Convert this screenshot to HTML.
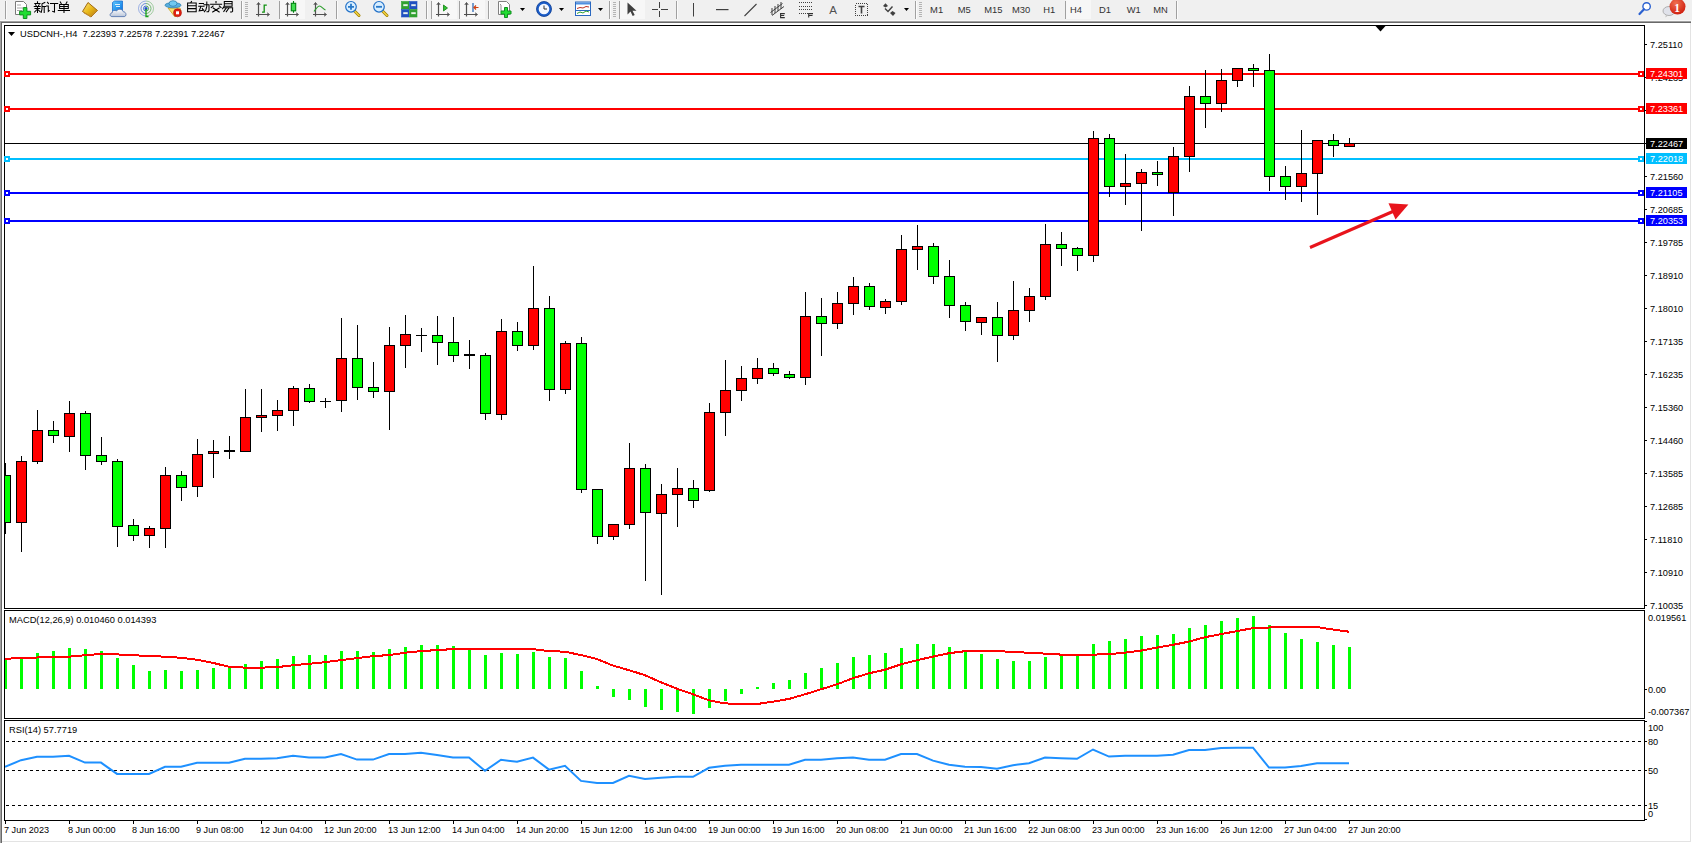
<!DOCTYPE html>
<html><head><meta charset="utf-8"><style>
html,body{margin:0;padding:0;width:1692px;height:843px;overflow:hidden;background:#fff;}
text{white-space:pre}
</style></head><body>
<svg width="1692" height="843" viewBox="0 0 1692 843" style="position:absolute;left:0;top:0;font-family:'Liberation Sans',sans-serif" shape-rendering="crispEdges"><rect x="0" y="0" width="1692" height="843" fill="#ffffff"/><rect x="0" y="0" width="1692" height="20" fill="#f0f0f0"/><rect x="0" y="20" width="1692" height="1" fill="#f8f8f8"/><rect x="0" y="21" width="1691" height="1" fill="#a0a0a0"/><rect x="0" y="22" width="1691" height="1" fill="#696969"/><rect x="0" y="21" width="1" height="822" fill="#a0a0a0"/><rect x="1" y="22" width="1" height="821" fill="#696969"/><rect x="1690" y="23" width="1" height="818" fill="#e3e3e3"/><rect x="2" y="841" width="1689" height="1" fill="#e3e3e3"/><g shape-rendering="crispEdges"><rect x="5" y="1" width="1" height="18" fill="#a0a0a0"/><rect x="6" y="1" width="1" height="18" fill="#fbfbfb"/><rect x="241" y="1" width="1" height="18" fill="#a0a0a0"/><rect x="242" y="1" width="1" height="18" fill="#fbfbfb"/><rect x="245" y="2" width="3" height="1" fill="#b4b4b4"/><rect x="245" y="4" width="3" height="1" fill="#b4b4b4"/><rect x="245" y="6" width="3" height="1" fill="#b4b4b4"/><rect x="245" y="8" width="3" height="1" fill="#b4b4b4"/><rect x="245" y="10" width="3" height="1" fill="#b4b4b4"/><rect x="245" y="12" width="3" height="1" fill="#b4b4b4"/><rect x="245" y="14" width="3" height="1" fill="#b4b4b4"/><rect x="245" y="16" width="3" height="1" fill="#b4b4b4"/><rect x="279" y="1" width="1" height="18" fill="#a0a0a0"/><rect x="280" y="1" width="1" height="18" fill="#fbfbfb"/><rect x="280" y="0" width="25" height="19" fill="#f7f7f7"/><rect x="336" y="1" width="1" height="18" fill="#a0a0a0"/><rect x="337" y="1" width="1" height="18" fill="#fbfbfb"/><rect x="426" y="1" width="1" height="18" fill="#a0a0a0"/><rect x="427" y="1" width="1" height="18" fill="#fbfbfb"/><rect x="431" y="1" width="1" height="18" fill="#a0a0a0"/><rect x="432" y="1" width="1" height="18" fill="#fbfbfb"/><rect x="432" y="0" width="25" height="19" fill="#f7f7f7"/><rect x="459" y="1" width="1" height="18" fill="#a0a0a0"/><rect x="460" y="1" width="1" height="18" fill="#fbfbfb"/><rect x="460" y="0" width="25" height="19" fill="#f7f7f7"/><rect x="488" y="1" width="1" height="18" fill="#a0a0a0"/><rect x="489" y="1" width="1" height="18" fill="#fbfbfb"/><rect x="609" y="1" width="1" height="18" fill="#a0a0a0"/><rect x="610" y="1" width="1" height="18" fill="#fbfbfb"/><rect x="613" y="2" width="3" height="1" fill="#b4b4b4"/><rect x="613" y="4" width="3" height="1" fill="#b4b4b4"/><rect x="613" y="6" width="3" height="1" fill="#b4b4b4"/><rect x="613" y="8" width="3" height="1" fill="#b4b4b4"/><rect x="613" y="10" width="3" height="1" fill="#b4b4b4"/><rect x="613" y="12" width="3" height="1" fill="#b4b4b4"/><rect x="613" y="14" width="3" height="1" fill="#b4b4b4"/><rect x="613" y="16" width="3" height="1" fill="#b4b4b4"/><rect x="619" y="1" width="1" height="18" fill="#a0a0a0"/><rect x="620" y="1" width="1" height="18" fill="#fbfbfb"/><rect x="620" y="0" width="25" height="19" fill="#f7f7f7"/><rect x="676" y="1" width="1" height="18" fill="#a0a0a0"/><rect x="677" y="1" width="1" height="18" fill="#fbfbfb"/><rect x="915" y="1" width="1" height="18" fill="#a0a0a0"/><rect x="916" y="1" width="1" height="18" fill="#fbfbfb"/><rect x="919" y="2" width="3" height="1" fill="#b4b4b4"/><rect x="919" y="4" width="3" height="1" fill="#b4b4b4"/><rect x="919" y="6" width="3" height="1" fill="#b4b4b4"/><rect x="919" y="8" width="3" height="1" fill="#b4b4b4"/><rect x="919" y="10" width="3" height="1" fill="#b4b4b4"/><rect x="919" y="12" width="3" height="1" fill="#b4b4b4"/><rect x="919" y="14" width="3" height="1" fill="#b4b4b4"/><rect x="919" y="16" width="3" height="1" fill="#b4b4b4"/><rect x="1065" y="1" width="1" height="18" fill="#a0a0a0"/><rect x="1066" y="1" width="1" height="18" fill="#fbfbfb"/><rect x="1066" y="0" width="25" height="19" fill="#f7f7f7"/><rect x="1176" y="1" width="1" height="18" fill="#a0a0a0"/><rect x="1177" y="1" width="1" height="18" fill="#fbfbfb"/></g><g shape-rendering="geometricPrecision"><path d="M15.5 1.5h8l3 3v10h-11z" fill="#fff" stroke="#7a7a7a"/><path d="M17 5h4M17 8h6M17 10.5h5" stroke="#a8a8a8" stroke-width="1"/><path d="M23.3 7.6h3.6v3.7h3.7v3.6h-3.7v3.6h-3.6v-3.6h-3.7v-3.6h3.7z" fill="#22dd33" stroke="#109020" stroke-width="1"/><g fill="none" stroke="#000" stroke-width="1.05" stroke-linecap="square"><path d="M37.5 1.8v1.2M34.8 3.5h5.2M35.5 4.6l.6 1M39.2 4.6l-.6 1M34.3 6.5h6M35 8.5h4.8M37.5 6.5v6M36.6 10l-2 2M38.4 10l1.8 1.8"/><path d="M44.8 2.5l-2.8 1.3v5.2l-.8 3.4M42 6.5h3.5M44.2 6.5v6"/><path d="M47.5 2.3l1 1.3M46.5 6h1.8v5.5l1-.8M50.5 3.5h7.2M54.5 3.5v8.5l-1.8-.6"/><path d="M60.3 2l.9 1.5M67 2l-.9 1.5M59.6 4.5h8.7v4h-8.7zM59.6 6.5h8.7M64 4.5v8M58.3 10.5h11.2"/></g><defs><linearGradient id="gold" x1="0" y1="0" x2="1" y2="1"><stop offset="0" stop-color="#ffe680"/><stop offset=".5" stop-color="#e8b818"/><stop offset="1" stop-color="#b07010"/></linearGradient><linearGradient id="cloud" x1="0" y1="0" x2="0" y2="1"><stop offset="0" stop-color="#ffffff"/><stop offset="1" stop-color="#b8c4d8"/></linearGradient><linearGradient id="blu" x1="0" y1="0" x2="1" y2="1"><stop offset="0" stop-color="#60c8ff"/><stop offset="1" stop-color="#0070e0"/></linearGradient><radialGradient id="badge" cx=".4" cy=".3" r=".7"><stop offset="0" stop-color="#f07050"/><stop offset="1" stop-color="#d02010"/></radialGradient></defs><path d="M82.5 11.5l5.5-9 9.5 8-6.5 6.5z" fill="url(#gold)" stroke="#a06a10" stroke-width="1"/><path d="M84 13l7 3.5 6-6" fill="none" stroke="#c89030" stroke-width="1"/><path d="M112.5 2.5l2-1.5h8v10.5h-10z" fill="url(#blu)" stroke="#1a70d0" stroke-width=".8"/><path d="M115 4.5h5M116 6.5h4" stroke="#d8f0ff" stroke-width="1"/><path d="M112 16.6c-2.5 0-2.5-3.6 0-3.6 0-2.5 2.8-3.3 4.5-2 1.3-2.5 5.8-2.5 6.8.8 3-.3 3.8 4.8.8 4.8z" fill="url(#cloud)" stroke="#5878b0" stroke-width=".9"/><g fill="none" stroke-width="1"><path d="M143.5 8.5a2.5 2.5 0 0 1 2.5 -2.5" stroke="#3060d0" opacity="0.9"/><path d="M143.5 8.5a2.5 2.5 0 0 0 2.5 2.5" stroke="#3060d0" opacity="0.9"/><path d="M146 6.0a2.5 2.5 0 0 1 2.5 2.5a2.5 2.5 0 0 1 -2.5 2.5" stroke="#40a040" opacity="0.9"/><path d="M141 8.5a5 5 0 0 1 5 -5" stroke="#3060d0" opacity="0.7"/><path d="M141 8.5a5 5 0 0 0 5 5" stroke="#3060d0" opacity="0.7"/><path d="M146 3.5a5 5 0 0 1 5 5a5 5 0 0 1 -5 5" stroke="#40a040" opacity="0.7"/><path d="M138.5 8.5a7.5 7.5 0 0 1 7.5 -7.5" stroke="#3060d0" opacity="0.45"/><path d="M138.5 8.5a7.5 7.5 0 0 0 7.5 7.5" stroke="#3060d0" opacity="0.45"/><path d="M146 1.0a7.5 7.5 0 0 1 7.5 7.5a7.5 7.5 0 0 1 -7.5 7.5" stroke="#40a040" opacity="0.45"/></g><circle cx="146" cy="8.5" r="1.5" fill="#2050d0"/><path d="M146 9v7.5h2.5" fill="none" stroke="#18a018" stroke-width="1.3"/><path d="M168 8l7 9 6-6-1-3z" fill="#f8e070" stroke="#c8a020" stroke-width=".8"/><ellipse cx="173" cy="5.2" rx="8" ry="2.6" fill="#58b0e0" stroke="#3080b0" stroke-width=".8"/><ellipse cx="173" cy="3.5" rx="4" ry="2.8" fill="#70c8f0" stroke="#3080b0" stroke-width=".8"/><circle cx="177.5" cy="12.8" r="4" fill="#e02010" stroke="#b01008" stroke-width=".6"/><rect x="176" y="11.3" width="3" height="3" fill="#fff"/><g fill="none" stroke="#000" stroke-width="1.05" stroke-linecap="square"><path d="M191.5 1.5l-.8 1.3M187.6 3h8.6v8.8h-8.6zM187.6 5.8h8.6M187.6 8.6h8.6"/><path d="M199.3 3.4h4.2M198.7 6.3h5.3M201 6.3l-1.8 4.5 4.5-.6M202.3 8.5l1 1.8M204 4.8h5v5.5l-.6 1.5h-1.4M206.8 2v4.5l-1 3.5-1.5 1.8"/><path d="M216 1.5v1.3M210.6 4.3h11M213 6l-1.8 1.6M219.3 6l1.8 1.6M213.2 8l6 4M219.2 8l-6.5 4"/><path d="M224.3 1.5h7.8v4.7h-7.8zM224.3 3.8h7.8M224 6.5l-1.5 2.2M223.8 7.8h8.8v3.5l-.8.6h-1.2M226.5 7.8l-2.7 3.6M229 8l-2.7 3.7"/></g><path d="M258.5 3v13.5M256 14.5h13" fill="none" stroke="#505050" stroke-width="1.2"/><path d="M256.8 5l1.7-2.5 1.7 2.5M267 12.8l2.5 1.7-2.5 1.7" fill="none" stroke="#505050" stroke-width="1"/><path d="M266.8 5.2h-2.6v7h-2.2" fill="none" stroke="#109010" stroke-width="1.3"/><path d="M287.5 3v13.5M285 14.5h13" fill="none" stroke="#505050" stroke-width="1.2"/><path d="M285.8 5l1.7-2.5 1.7 2.5M296 12.8l2.5 1.7-2.5 1.7" fill="none" stroke="#505050" stroke-width="1"/><rect x="291.3" y="3.3" width="4.4" height="7.5" fill="#40e050" stroke="#008010" stroke-width="1.1"/><path d="M293.5 1v2.3M293.5 10.8v2" stroke="#008010" stroke-width="1.1"/><path d="M315.5 3v13.5M313 14.5h13" fill="none" stroke="#505050" stroke-width="1.2"/><path d="M313.8 5l1.7-2.5 1.7 2.5M324 12.8l2.5 1.7-2.5 1.7" fill="none" stroke="#505050" stroke-width="1"/><path d="M314 11.5c2-2.5 3.5-5.5 5.5-5.5 2 0 3.5 3 6 4" fill="none" stroke="#30a030" stroke-width="1.1"/><path d="M354 10.5l5 5" stroke="#a08000" stroke-width="3" stroke-linecap="round"/><path d="M354 10.5l5 5" stroke="#f0d040" stroke-width="1.6" stroke-linecap="round"/><circle cx="351" cy="6.8" r="5.3" fill="#d8eeff" stroke="#2070c8" stroke-width="1.2"/><path d="M348 6.8h6M351 3.8v6" stroke="#2878c8" stroke-width="1.8"/><path d="M382 10.5l5 5" stroke="#a08000" stroke-width="3" stroke-linecap="round"/><path d="M382 10.5l5 5" stroke="#f0d040" stroke-width="1.6" stroke-linecap="round"/><circle cx="379" cy="6.8" r="5.3" fill="#d8eeff" stroke="#2070c8" stroke-width="1.2"/><path d="M376 6.8h6" stroke="#2878c8" stroke-width="1.8"/><rect x="401.5" y="1.5" width="7.5" height="7.5" fill="#30a030" stroke="#30a030" stroke-width=".6"/><rect x="403" y="4" width="5" height="2.2" fill="#f0f8f0" stroke="#30a030" stroke-width=".5"/><rect x="409.5" y="1.5" width="7.5" height="7.5" fill="#2050c0" stroke="#2050c0" stroke-width=".6"/><rect x="411" y="4" width="5" height="2.2" fill="#f0f8f0" stroke="#2050c0" stroke-width=".5"/><rect x="401.5" y="9.5" width="7.5" height="7.5" fill="#2050c0" stroke="#2050c0" stroke-width=".6"/><rect x="403" y="12" width="5" height="2.2" fill="#f0f8f0" stroke="#2050c0" stroke-width=".5"/><rect x="409.5" y="9.5" width="7.5" height="7.5" fill="#30a030" stroke="#30a030" stroke-width=".6"/><rect x="411" y="12" width="5" height="2.2" fill="#f0f8f0" stroke="#30a030" stroke-width=".5"/><path d="M438.5 3v13.5M436 14.5h13" fill="none" stroke="#505050" stroke-width="1.2"/><path d="M436.8 5l1.7-2.5 1.7 2.5M447 12.8l2.5 1.7-2.5 1.7" fill="none" stroke="#505050" stroke-width="1"/><path d="M443.5 5v6l4-3z" fill="#30c030" stroke="#108010" stroke-width=".8"/><path d="M466.5 3v13.5M464 14.5h13" fill="none" stroke="#505050" stroke-width="1.2"/><path d="M464.8 5l1.7-2.5 1.7 2.5M475 12.8l2.5 1.7-2.5 1.7" fill="none" stroke="#505050" stroke-width="1"/><path d="M473 3v9" stroke="#2060b0" stroke-width="1.2"/><path d="M478.5 7.5h-4M476 5.5l-2 2 2 2" fill="none" stroke="#d04010" stroke-width="1.2"/><path d="M498.5 1.5h8l3 3v10h-11z" fill="#fff" stroke="#808080"/><path d="M500 4l1 1v6" stroke="#909090" fill="none"/><path d="M504.5 7.5h3v3.5h3.5v3h-3.5v3.5h-3v-3.5h-3.5v-3h3.5z" fill="#22dd33" stroke="#109020"/><path d="M520 8h5l-2.5 3z" fill="#000" shape-rendering="geometricPrecision"/><circle cx="544" cy="9" r="7.5" fill="#1a5cc8" stroke="#0a3a90" stroke-width=".8"/><circle cx="544" cy="9" r="5.3" fill="#f4f8ff"/><path d="M544 5.5v3.5h3" fill="none" stroke="#303030" stroke-width="1"/><path d="M559 8h5l-2.5 3z" fill="#000" shape-rendering="geometricPrecision"/><rect x="575.5" y="2" width="15" height="13.5" fill="#fff" stroke="#2a68c0" stroke-width="1"/><rect x="576" y="2.5" width="14" height="2" fill="#5090e0"/><path d="M577 8.5l3-1 3 .5 3-1.5 3 .5" fill="none" stroke="#c03020" stroke-width="1"/><path d="M576 10.5h14" stroke="#2a68c0"/><path d="M577 13.5l3-1.5 3 1 3-2 3 1" fill="none" stroke="#30a030" stroke-width="1"/><path d="M598 8h5l-2.5 3z" fill="#000" shape-rendering="geometricPrecision"/><path d="M627.5 2.5v12l3-3 2.2 4.5 2-1-2.2-4.3h4z" fill="#404040"/><path d="M651.5 9.5h6.5M661 9.5h6.5M659.5 2v6M659.5 11v6" stroke="#404040" stroke-width="1" fill="none" shape-rendering="crispEdges"/><rect x="693" y="3" width="1" height="13.5" fill="#404040"/><rect x="716" y="9" width="12.5" height="1.2" fill="#404040"/><path d="M744.5 16l12-12" stroke="#404040" stroke-width="1.1"/><path d="M770.5 12.5l12-9M772 15.5l12-9M772 8v7M775 6v7M778 4v7M781 2v7" stroke="#404040" stroke-width="1" fill="none"/><path d="M784.8 13.6h-4.2v4h4.2M780.6 15.5h3.6" stroke="#303030" stroke-width="1.1" fill="none"/><path d="M799 2.5h13" stroke="#404040" stroke-width="1" stroke-dasharray="1,1" shape-rendering="crispEdges"/><path d="M799 6h13" stroke="#404040" stroke-width="1" stroke-dasharray="1,1" shape-rendering="crispEdges"/><path d="M799 9.5h13" stroke="#404040" stroke-width="1" stroke-dasharray="1,1" shape-rendering="crispEdges"/><path d="M799 13h13" stroke="#404040" stroke-width="1" stroke-dasharray="1,1" shape-rendering="crispEdges"/><path d="M813 13.6h-4.3v4M808.7 15.5h3.8" stroke="#303030" stroke-width="1.1" fill="none"/><text x="829.3" y="14" font-size="11.5" fill="#505050" style="font-family:'Liberation Sans',sans-serif">A</text><rect x="855.5" y="3.5" width="12" height="12" fill="none" stroke="#404040" stroke-width="1" stroke-dasharray="1,1" shape-rendering="crispEdges"/><path d="M858.5 6.5h6M861.5 6.5v7" stroke="#404040" stroke-width="1.6"/><path d="M883 6l2.5-2.7 2.5 2.7-2.5 1.5z" fill="#404040"/><path d="M885 8.5l3 3 4.5-5" fill="none" stroke="#404040" stroke-width="1.4"/><path d="M890 13l2.5-2 3 2-2.5 3z" fill="#404040"/><path d="M904 8h5l-2.5 3z" fill="#000" shape-rendering="geometricPrecision"/></g><g style="font-family:'Liberation Sans',sans-serif" font-size="9.4" fill="#333"><text x="930.1" y="13">M1</text><text x="957.8" y="13">M5</text><text x="984.2" y="13">M15</text><text x="1012.0" y="13">M30</text><text x="1043.3" y="13">H1</text><text x="1069.9" y="13">H4</text><text x="1099.1" y="13">D1</text><text x="1126.7" y="13">W1</text><text x="1153.3" y="13">MN</text></g><g shape-rendering="geometricPrecision"><circle cx="1646.6" cy="6.4" r="3.7" fill="#fff" stroke="#2a60d0" stroke-width="1.4"/><path d="M1644 9.2l-4.5 4.8" stroke="#2a60d0" stroke-width="2.2" stroke-linecap="round"/><ellipse cx="1669" cy="11" rx="6" ry="4.5" fill="#e0e2ea" stroke="#a8a8a8" stroke-width=".9"/><path d="M1666 15l-.8 2.5 3-2" fill="#c0c0c0"/><circle cx="1677.5" cy="6.6" r="8" fill="url(#badge)"/><text x="1674.2" y="11.5" font-size="11.5" font-weight="bold" fill="#fff" style="font-family:'Liberation Serif',serif">1</text></g><rect x="4" y="25" width="1641" height="1" fill="#000"/><rect x="4" y="608" width="1641" height="1" fill="#000"/><rect x="4" y="25" width="1" height="584" fill="#000"/><rect x="1644" y="25" width="1" height="584" fill="#000"/><rect x="4" y="610" width="1641" height="1" fill="#000"/><rect x="4" y="718" width="1641" height="1" fill="#000"/><rect x="4" y="610" width="1" height="109" fill="#000"/><rect x="1644" y="610" width="1" height="109" fill="#000"/><rect x="4" y="720" width="1641" height="1" fill="#000"/><rect x="4" y="820" width="1641" height="1" fill="#000"/><rect x="4" y="720" width="1" height="101" fill="#000"/><rect x="1644" y="720" width="1" height="101" fill="#000"/><svg x="5" y="26" width="1639" height="582" viewBox="5 26 1639 582" overflow="hidden"><rect x="5" y="143" width="1639" height="1" fill="#000"/><rect x="5" y="73" width="1639" height="2" fill="#ff0000"/><rect x="5" y="108" width="1639" height="2" fill="#ff0000"/><rect x="5" y="158" width="1639" height="2" fill="#00bfff"/><rect x="5" y="192" width="1639" height="2" fill="#0000ff"/><rect x="5" y="220" width="1639" height="2" fill="#0000ff"/><rect x="5" y="463" width="1" height="71" fill="#000"/><rect x="0" y="475" width="11" height="48" fill="#000"/><rect x="1" y="476" width="9" height="46" fill="#00ff00"/><rect x="21" y="456" width="1" height="96" fill="#000"/><rect x="16" y="461" width="11" height="62" fill="#000"/><rect x="17" y="462" width="9" height="60" fill="#ff0000"/><rect x="37" y="410" width="1" height="54" fill="#000"/><rect x="32" y="430" width="11" height="32" fill="#000"/><rect x="33" y="431" width="9" height="30" fill="#ff0000"/><rect x="53" y="421" width="1" height="22" fill="#000"/><rect x="48" y="430" width="11" height="6" fill="#000"/><rect x="49" y="431" width="9" height="4" fill="#00ff00"/><rect x="69" y="401" width="1" height="51" fill="#000"/><rect x="64" y="413" width="11" height="24" fill="#000"/><rect x="65" y="414" width="9" height="22" fill="#ff0000"/><rect x="85" y="411" width="1" height="59" fill="#000"/><rect x="80" y="413" width="11" height="43" fill="#000"/><rect x="81" y="414" width="9" height="41" fill="#00ff00"/><rect x="101" y="437" width="1" height="28" fill="#000"/><rect x="96" y="455" width="11" height="7" fill="#000"/><rect x="97" y="456" width="9" height="5" fill="#00ff00"/><rect x="117" y="459" width="1" height="88" fill="#000"/><rect x="112" y="461" width="11" height="66" fill="#000"/><rect x="113" y="462" width="9" height="64" fill="#00ff00"/><rect x="133" y="519" width="1" height="22" fill="#000"/><rect x="128" y="525" width="11" height="11" fill="#000"/><rect x="129" y="526" width="9" height="9" fill="#00ff00"/><rect x="149" y="526" width="1" height="22" fill="#000"/><rect x="144" y="528" width="11" height="8" fill="#000"/><rect x="145" y="529" width="9" height="6" fill="#ff0000"/><rect x="165" y="467" width="1" height="81" fill="#000"/><rect x="160" y="475" width="11" height="54" fill="#000"/><rect x="161" y="476" width="9" height="52" fill="#ff0000"/><rect x="181" y="471" width="1" height="30" fill="#000"/><rect x="176" y="475" width="11" height="13" fill="#000"/><rect x="177" y="476" width="9" height="11" fill="#00ff00"/><rect x="197" y="439" width="1" height="58" fill="#000"/><rect x="192" y="454" width="11" height="33" fill="#000"/><rect x="193" y="455" width="9" height="31" fill="#ff0000"/><rect x="213" y="440" width="1" height="38" fill="#000"/><rect x="208" y="451" width="11" height="3" fill="#000"/><rect x="209" y="452" width="9" height="1" fill="#ff0000"/><rect x="229" y="436" width="1" height="23" fill="#000"/><rect x="224" y="450" width="11" height="2" fill="#000"/><rect x="245" y="389" width="1" height="63" fill="#000"/><rect x="240" y="417" width="11" height="35" fill="#000"/><rect x="241" y="418" width="9" height="33" fill="#ff0000"/><rect x="261" y="389" width="1" height="43" fill="#000"/><rect x="256" y="415" width="11" height="3" fill="#000"/><rect x="257" y="416" width="9" height="1" fill="#ff0000"/><rect x="277" y="400" width="1" height="31" fill="#000"/><rect x="272" y="410" width="11" height="6" fill="#000"/><rect x="273" y="411" width="9" height="4" fill="#ff0000"/><rect x="293" y="386" width="1" height="40" fill="#000"/><rect x="288" y="388" width="11" height="23" fill="#000"/><rect x="289" y="389" width="9" height="21" fill="#ff0000"/><rect x="309" y="384" width="1" height="19" fill="#000"/><rect x="304" y="388" width="11" height="14" fill="#000"/><rect x="305" y="389" width="9" height="12" fill="#00ff00"/><rect x="325" y="398" width="1" height="10" fill="#000"/><rect x="320" y="401" width="11" height="1" fill="#000"/><rect x="341" y="318" width="1" height="94" fill="#000"/><rect x="336" y="358" width="11" height="43" fill="#000"/><rect x="337" y="359" width="9" height="41" fill="#ff0000"/><rect x="357" y="325" width="1" height="75" fill="#000"/><rect x="352" y="358" width="11" height="30" fill="#000"/><rect x="353" y="359" width="9" height="28" fill="#00ff00"/><rect x="373" y="362" width="1" height="36" fill="#000"/><rect x="368" y="387" width="11" height="5" fill="#000"/><rect x="369" y="388" width="9" height="3" fill="#00ff00"/><rect x="389" y="327" width="1" height="103" fill="#000"/><rect x="384" y="345" width="11" height="47" fill="#000"/><rect x="385" y="346" width="9" height="45" fill="#ff0000"/><rect x="405" y="315" width="1" height="53" fill="#000"/><rect x="400" y="334" width="11" height="12" fill="#000"/><rect x="401" y="335" width="9" height="10" fill="#ff0000"/><rect x="421" y="328" width="1" height="24" fill="#000"/><rect x="416" y="335" width="11" height="1" fill="#000"/><rect x="437" y="316" width="1" height="49" fill="#000"/><rect x="432" y="335" width="11" height="8" fill="#000"/><rect x="433" y="336" width="9" height="6" fill="#00ff00"/><rect x="453" y="317" width="1" height="45" fill="#000"/><rect x="448" y="342" width="11" height="14" fill="#000"/><rect x="449" y="343" width="9" height="12" fill="#00ff00"/><rect x="469" y="340" width="1" height="29" fill="#000"/><rect x="464" y="354" width="11" height="2" fill="#000"/><rect x="485" y="353" width="1" height="67" fill="#000"/><rect x="480" y="355" width="11" height="59" fill="#000"/><rect x="481" y="356" width="9" height="57" fill="#00ff00"/><rect x="501" y="319" width="1" height="101" fill="#000"/><rect x="496" y="331" width="11" height="84" fill="#000"/><rect x="497" y="332" width="9" height="82" fill="#ff0000"/><rect x="517" y="322" width="1" height="29" fill="#000"/><rect x="512" y="331" width="11" height="15" fill="#000"/><rect x="513" y="332" width="9" height="13" fill="#00ff00"/><rect x="533" y="266" width="1" height="84" fill="#000"/><rect x="528" y="308" width="11" height="38" fill="#000"/><rect x="529" y="309" width="9" height="36" fill="#ff0000"/><rect x="549" y="296" width="1" height="105" fill="#000"/><rect x="544" y="308" width="11" height="82" fill="#000"/><rect x="545" y="309" width="9" height="80" fill="#00ff00"/><rect x="565" y="341" width="1" height="53" fill="#000"/><rect x="560" y="343" width="11" height="47" fill="#000"/><rect x="561" y="344" width="9" height="45" fill="#ff0000"/><rect x="581" y="337" width="1" height="156" fill="#000"/><rect x="576" y="343" width="11" height="147" fill="#000"/><rect x="577" y="344" width="9" height="145" fill="#00ff00"/><rect x="597" y="489" width="1" height="55" fill="#000"/><rect x="592" y="489" width="11" height="48" fill="#000"/><rect x="593" y="490" width="9" height="46" fill="#00ff00"/><rect x="613" y="524" width="1" height="16" fill="#000"/><rect x="608" y="524" width="11" height="13" fill="#000"/><rect x="609" y="525" width="9" height="11" fill="#ff0000"/><rect x="629" y="443" width="1" height="86" fill="#000"/><rect x="624" y="468" width="11" height="57" fill="#000"/><rect x="625" y="469" width="9" height="55" fill="#ff0000"/><rect x="645" y="464" width="1" height="117" fill="#000"/><rect x="640" y="468" width="11" height="45" fill="#000"/><rect x="641" y="469" width="9" height="43" fill="#00ff00"/><rect x="661" y="484" width="1" height="111" fill="#000"/><rect x="656" y="494" width="11" height="20" fill="#000"/><rect x="657" y="495" width="9" height="18" fill="#ff0000"/><rect x="677" y="468" width="1" height="59" fill="#000"/><rect x="672" y="488" width="11" height="7" fill="#000"/><rect x="673" y="489" width="9" height="5" fill="#ff0000"/><rect x="693" y="480" width="1" height="28" fill="#000"/><rect x="688" y="488" width="11" height="13" fill="#000"/><rect x="689" y="489" width="9" height="11" fill="#00ff00"/><rect x="709" y="403" width="1" height="89" fill="#000"/><rect x="704" y="412" width="11" height="79" fill="#000"/><rect x="705" y="413" width="9" height="77" fill="#ff0000"/><rect x="725" y="360" width="1" height="76" fill="#000"/><rect x="720" y="390" width="11" height="23" fill="#000"/><rect x="721" y="391" width="9" height="21" fill="#ff0000"/><rect x="741" y="366" width="1" height="35" fill="#000"/><rect x="736" y="378" width="11" height="13" fill="#000"/><rect x="737" y="379" width="9" height="11" fill="#ff0000"/><rect x="757" y="358" width="1" height="26" fill="#000"/><rect x="752" y="368" width="11" height="11" fill="#000"/><rect x="753" y="369" width="9" height="9" fill="#ff0000"/><rect x="773" y="363" width="1" height="13" fill="#000"/><rect x="768" y="368" width="11" height="6" fill="#000"/><rect x="769" y="369" width="9" height="4" fill="#00ff00"/><rect x="789" y="371" width="1" height="8" fill="#000"/><rect x="784" y="374" width="11" height="4" fill="#000"/><rect x="785" y="375" width="9" height="2" fill="#00ff00"/><rect x="805" y="292" width="1" height="93" fill="#000"/><rect x="800" y="316" width="11" height="62" fill="#000"/><rect x="801" y="317" width="9" height="60" fill="#ff0000"/><rect x="821" y="298" width="1" height="58" fill="#000"/><rect x="816" y="316" width="11" height="8" fill="#000"/><rect x="817" y="317" width="9" height="6" fill="#00ff00"/><rect x="837" y="292" width="1" height="37" fill="#000"/><rect x="832" y="303" width="11" height="21" fill="#000"/><rect x="833" y="304" width="9" height="19" fill="#ff0000"/><rect x="853" y="277" width="1" height="38" fill="#000"/><rect x="848" y="286" width="11" height="18" fill="#000"/><rect x="849" y="287" width="9" height="16" fill="#ff0000"/><rect x="869" y="283" width="1" height="27" fill="#000"/><rect x="864" y="286" width="11" height="21" fill="#000"/><rect x="865" y="287" width="9" height="19" fill="#00ff00"/><rect x="885" y="299" width="1" height="15" fill="#000"/><rect x="880" y="301" width="11" height="7" fill="#000"/><rect x="881" y="302" width="9" height="5" fill="#ff0000"/><rect x="901" y="235" width="1" height="70" fill="#000"/><rect x="896" y="249" width="11" height="53" fill="#000"/><rect x="897" y="250" width="9" height="51" fill="#ff0000"/><rect x="917" y="225" width="1" height="45" fill="#000"/><rect x="912" y="246" width="11" height="4" fill="#000"/><rect x="913" y="247" width="9" height="2" fill="#ff0000"/><rect x="933" y="243" width="1" height="41" fill="#000"/><rect x="928" y="246" width="11" height="31" fill="#000"/><rect x="929" y="247" width="9" height="29" fill="#00ff00"/><rect x="949" y="260" width="1" height="58" fill="#000"/><rect x="944" y="276" width="11" height="30" fill="#000"/><rect x="945" y="277" width="9" height="28" fill="#00ff00"/><rect x="965" y="302" width="1" height="29" fill="#000"/><rect x="960" y="305" width="11" height="17" fill="#000"/><rect x="961" y="306" width="9" height="15" fill="#00ff00"/><rect x="981" y="317" width="1" height="18" fill="#000"/><rect x="976" y="317" width="11" height="6" fill="#000"/><rect x="977" y="318" width="9" height="4" fill="#ff0000"/><rect x="997" y="302" width="1" height="60" fill="#000"/><rect x="992" y="317" width="11" height="19" fill="#000"/><rect x="993" y="318" width="9" height="17" fill="#00ff00"/><rect x="1013" y="281" width="1" height="59" fill="#000"/><rect x="1008" y="310" width="11" height="26" fill="#000"/><rect x="1009" y="311" width="9" height="24" fill="#ff0000"/><rect x="1029" y="288" width="1" height="34" fill="#000"/><rect x="1024" y="296" width="11" height="15" fill="#000"/><rect x="1025" y="297" width="9" height="13" fill="#ff0000"/><rect x="1045" y="224" width="1" height="76" fill="#000"/><rect x="1040" y="244" width="11" height="53" fill="#000"/><rect x="1041" y="245" width="9" height="51" fill="#ff0000"/><rect x="1061" y="232" width="1" height="34" fill="#000"/><rect x="1056" y="244" width="11" height="5" fill="#000"/><rect x="1057" y="245" width="9" height="3" fill="#00ff00"/><rect x="1077" y="247" width="1" height="24" fill="#000"/><rect x="1072" y="248" width="11" height="8" fill="#000"/><rect x="1073" y="249" width="9" height="6" fill="#00ff00"/><rect x="1093" y="131" width="1" height="131" fill="#000"/><rect x="1088" y="138" width="11" height="118" fill="#000"/><rect x="1089" y="139" width="9" height="116" fill="#ff0000"/><rect x="1109" y="134" width="1" height="63" fill="#000"/><rect x="1104" y="138" width="11" height="49" fill="#000"/><rect x="1105" y="139" width="9" height="47" fill="#00ff00"/><rect x="1125" y="154" width="1" height="51" fill="#000"/><rect x="1120" y="183" width="11" height="4" fill="#000"/><rect x="1121" y="184" width="9" height="2" fill="#ff0000"/><rect x="1141" y="169" width="1" height="62" fill="#000"/><rect x="1136" y="172" width="11" height="12" fill="#000"/><rect x="1137" y="173" width="9" height="10" fill="#ff0000"/><rect x="1157" y="161" width="1" height="25" fill="#000"/><rect x="1152" y="172" width="11" height="3" fill="#000"/><rect x="1153" y="173" width="9" height="1" fill="#00ff00"/><rect x="1173" y="147" width="1" height="69" fill="#000"/><rect x="1168" y="156" width="11" height="37" fill="#000"/><rect x="1169" y="157" width="9" height="35" fill="#ff0000"/><rect x="1189" y="86" width="1" height="86" fill="#000"/><rect x="1184" y="96" width="11" height="61" fill="#000"/><rect x="1185" y="97" width="9" height="59" fill="#ff0000"/><rect x="1205" y="70" width="1" height="58" fill="#000"/><rect x="1200" y="96" width="11" height="8" fill="#000"/><rect x="1201" y="97" width="9" height="6" fill="#00ff00"/><rect x="1221" y="69" width="1" height="43" fill="#000"/><rect x="1216" y="80" width="11" height="24" fill="#000"/><rect x="1217" y="81" width="9" height="22" fill="#ff0000"/><rect x="1237" y="68" width="1" height="19" fill="#000"/><rect x="1232" y="68" width="11" height="13" fill="#000"/><rect x="1233" y="69" width="9" height="11" fill="#ff0000"/><rect x="1253" y="64" width="1" height="23" fill="#000"/><rect x="1248" y="68" width="11" height="3" fill="#000"/><rect x="1249" y="69" width="9" height="1" fill="#00ff00"/><rect x="1269" y="54" width="1" height="137" fill="#000"/><rect x="1264" y="70" width="11" height="107" fill="#000"/><rect x="1265" y="71" width="9" height="105" fill="#00ff00"/><rect x="1285" y="166" width="1" height="34" fill="#000"/><rect x="1280" y="176" width="11" height="11" fill="#000"/><rect x="1281" y="177" width="9" height="9" fill="#00ff00"/><rect x="1301" y="130" width="1" height="72" fill="#000"/><rect x="1296" y="173" width="11" height="14" fill="#000"/><rect x="1297" y="174" width="9" height="12" fill="#ff0000"/><rect x="1317" y="140" width="1" height="75" fill="#000"/><rect x="1312" y="140" width="11" height="34" fill="#000"/><rect x="1313" y="141" width="9" height="32" fill="#ff0000"/><rect x="1333" y="134" width="1" height="23" fill="#000"/><rect x="1328" y="140" width="11" height="6" fill="#000"/><rect x="1329" y="141" width="9" height="4" fill="#00ff00"/><rect x="1349" y="138" width="1" height="9" fill="#000"/><rect x="1344" y="143" width="11" height="4" fill="#000"/><rect x="1345" y="144" width="9" height="2" fill="#ff0000"/><g shape-rendering="geometricPrecision"><line x1="1310" y1="247.5" x2="1394" y2="211" stroke="#e8141c" stroke-width="3"/><polygon points="1388.5,203.3 1408.4,204.5 1395.5,219.5" fill="#e8141c"/></g></svg><rect x="4" y="71" width="6" height="6" fill="#ff0000"/><rect x="6" y="73" width="2" height="2" fill="#fff"/><rect x="1638" y="71" width="6" height="6" fill="#ff0000"/><rect x="1640" y="73" width="2" height="2" fill="#fff"/><rect x="4" y="106" width="6" height="6" fill="#ff0000"/><rect x="6" y="108" width="2" height="2" fill="#fff"/><rect x="1638" y="106" width="6" height="6" fill="#ff0000"/><rect x="1640" y="108" width="2" height="2" fill="#fff"/><rect x="4" y="156" width="6" height="6" fill="#00bfff"/><rect x="6" y="158" width="2" height="2" fill="#fff"/><rect x="1638" y="156" width="6" height="6" fill="#00bfff"/><rect x="1640" y="158" width="2" height="2" fill="#fff"/><rect x="4" y="190" width="6" height="6" fill="#0000ff"/><rect x="6" y="192" width="2" height="2" fill="#fff"/><rect x="1638" y="190" width="6" height="6" fill="#0000ff"/><rect x="1640" y="192" width="2" height="2" fill="#fff"/><rect x="4" y="218" width="6" height="6" fill="#0000ff"/><rect x="6" y="220" width="2" height="2" fill="#fff"/><rect x="1638" y="218" width="6" height="6" fill="#0000ff"/><rect x="1640" y="220" width="2" height="2" fill="#fff"/><polygon points="1375.5,26 1385.5,26 1380.5,31.5" fill="#000" shape-rendering="geometricPrecision"/><polygon points="8,32 15,32 11.5,36" fill="#000" shape-rendering="geometricPrecision"/><text x="20" y="37" font-size="9.3" fill="#000" text-anchor="start" >USDCNH-,H4  7.22393 7.22578 7.22391 7.22467</text><rect x="1645" y="44" width="2" height="1" fill="#000"/><text x="1650" y="48" font-size="9.2" fill="#000" text-anchor="start" >7.25110</text><rect x="1645" y="77" width="2" height="1" fill="#000"/><text x="1650" y="81" font-size="9.2" fill="#000" text-anchor="start" >7.24235</text><rect x="1645" y="110" width="2" height="1" fill="#000"/><text x="1650" y="114" font-size="9.2" fill="#000" text-anchor="start" >7.23360</text><rect x="1645" y="143" width="2" height="1" fill="#000"/><text x="1650" y="147" font-size="9.2" fill="#000" text-anchor="start" >7.22485</text><rect x="1645" y="176" width="2" height="1" fill="#000"/><text x="1650" y="180" font-size="9.2" fill="#000" text-anchor="start" >7.21560</text><rect x="1645" y="209" width="2" height="1" fill="#000"/><text x="1650" y="213" font-size="9.2" fill="#000" text-anchor="start" >7.20685</text><rect x="1645" y="242" width="2" height="1" fill="#000"/><text x="1650" y="246" font-size="9.2" fill="#000" text-anchor="start" >7.19785</text><rect x="1645" y="275" width="2" height="1" fill="#000"/><text x="1650" y="279" font-size="9.2" fill="#000" text-anchor="start" >7.18910</text><rect x="1645" y="308" width="2" height="1" fill="#000"/><text x="1650" y="312" font-size="9.2" fill="#000" text-anchor="start" >7.18010</text><rect x="1645" y="341" width="2" height="1" fill="#000"/><text x="1650" y="345" font-size="9.2" fill="#000" text-anchor="start" >7.17135</text><rect x="1645" y="374" width="2" height="1" fill="#000"/><text x="1650" y="378" font-size="9.2" fill="#000" text-anchor="start" >7.16235</text><rect x="1645" y="407" width="2" height="1" fill="#000"/><text x="1650" y="411" font-size="9.2" fill="#000" text-anchor="start" >7.15360</text><rect x="1645" y="440" width="2" height="1" fill="#000"/><text x="1650" y="444" font-size="9.2" fill="#000" text-anchor="start" >7.14460</text><rect x="1645" y="473" width="2" height="1" fill="#000"/><text x="1650" y="477" font-size="9.2" fill="#000" text-anchor="start" >7.13585</text><rect x="1645" y="506" width="2" height="1" fill="#000"/><text x="1650" y="510" font-size="9.2" fill="#000" text-anchor="start" >7.12685</text><rect x="1645" y="539" width="2" height="1" fill="#000"/><text x="1650" y="543" font-size="9.2" fill="#000" text-anchor="start" >7.11810</text><rect x="1645" y="572" width="2" height="1" fill="#000"/><text x="1650" y="576" font-size="9.2" fill="#000" text-anchor="start" >7.10910</text><rect x="1645" y="605" width="2" height="1" fill="#000"/><text x="1650" y="609" font-size="9.2" fill="#000" text-anchor="start" >7.10035</text><rect x="1646" y="68" width="41" height="11" fill="#ff0000"/><text x="1650" y="77" font-size="9.2" fill="#fff" text-anchor="start" >7.24301</text><rect x="1646" y="103" width="41" height="11" fill="#ff0000"/><text x="1650" y="112" font-size="9.2" fill="#fff" text-anchor="start" >7.23361</text><rect x="1646" y="138" width="41" height="11" fill="#000000"/><text x="1650" y="147" font-size="9.2" fill="#fff" text-anchor="start" >7.22467</text><rect x="1646" y="153" width="41" height="11" fill="#00bfff"/><text x="1650" y="162" font-size="9.2" fill="#fff" text-anchor="start" >7.22018</text><rect x="1646" y="187" width="41" height="11" fill="#0000ff"/><text x="1650" y="196" font-size="9.2" fill="#fff" text-anchor="start" >7.21105</text><rect x="1646" y="215" width="41" height="11" fill="#0000ff"/><text x="1650" y="224" font-size="9.2" fill="#fff" text-anchor="start" >7.20353</text><svg x="5" y="611" width="1639" height="107" viewBox="5 611 1639 107" overflow="hidden"><rect x="4" y="660" width="3" height="29" fill="#00ff00"/><rect x="20" y="659" width="3" height="30" fill="#00ff00"/><rect x="36" y="653" width="3" height="36" fill="#00ff00"/><rect x="52" y="651" width="3" height="38" fill="#00ff00"/><rect x="68" y="648" width="3" height="41" fill="#00ff00"/><rect x="84" y="649" width="3" height="40" fill="#00ff00"/><rect x="100" y="651" width="3" height="38" fill="#00ff00"/><rect x="116" y="658" width="3" height="31" fill="#00ff00"/><rect x="132" y="665" width="3" height="24" fill="#00ff00"/><rect x="148" y="671" width="3" height="18" fill="#00ff00"/><rect x="164" y="670" width="3" height="19" fill="#00ff00"/><rect x="180" y="671" width="3" height="18" fill="#00ff00"/><rect x="196" y="670" width="3" height="19" fill="#00ff00"/><rect x="212" y="668" width="3" height="21" fill="#00ff00"/><rect x="228" y="667" width="3" height="22" fill="#00ff00"/><rect x="244" y="664" width="3" height="25" fill="#00ff00"/><rect x="260" y="661" width="3" height="28" fill="#00ff00"/><rect x="276" y="659" width="3" height="30" fill="#00ff00"/><rect x="292" y="656" width="3" height="33" fill="#00ff00"/><rect x="308" y="655" width="3" height="34" fill="#00ff00"/><rect x="324" y="655" width="3" height="34" fill="#00ff00"/><rect x="340" y="651" width="3" height="38" fill="#00ff00"/><rect x="356" y="651" width="3" height="38" fill="#00ff00"/><rect x="372" y="652" width="3" height="37" fill="#00ff00"/><rect x="388" y="649" width="3" height="40" fill="#00ff00"/><rect x="404" y="647" width="3" height="42" fill="#00ff00"/><rect x="420" y="645" width="3" height="44" fill="#00ff00"/><rect x="436" y="645" width="3" height="44" fill="#00ff00"/><rect x="452" y="646" width="3" height="43" fill="#00ff00"/><rect x="468" y="649" width="3" height="40" fill="#00ff00"/><rect x="484" y="655" width="3" height="34" fill="#00ff00"/><rect x="500" y="653" width="3" height="36" fill="#00ff00"/><rect x="516" y="654" width="3" height="35" fill="#00ff00"/><rect x="532" y="652" width="3" height="37" fill="#00ff00"/><rect x="548" y="657" width="3" height="32" fill="#00ff00"/><rect x="564" y="658" width="3" height="31" fill="#00ff00"/><rect x="580" y="671" width="3" height="18" fill="#00ff00"/><rect x="596" y="686" width="3" height="3" fill="#00ff00"/><rect x="612" y="689" width="3" height="8" fill="#00ff00"/><rect x="628" y="689" width="3" height="11" fill="#00ff00"/><rect x="644" y="689" width="3" height="18" fill="#00ff00"/><rect x="660" y="689" width="3" height="21" fill="#00ff00"/><rect x="676" y="689" width="3" height="23" fill="#00ff00"/><rect x="692" y="689" width="3" height="25" fill="#00ff00"/><rect x="708" y="689" width="3" height="19" fill="#00ff00"/><rect x="724" y="689" width="3" height="12" fill="#00ff00"/><rect x="740" y="689" width="3" height="5" fill="#00ff00"/><rect x="756" y="687" width="3" height="2" fill="#00ff00"/><rect x="772" y="683" width="3" height="6" fill="#00ff00"/><rect x="788" y="680" width="3" height="9" fill="#00ff00"/><rect x="804" y="673" width="3" height="16" fill="#00ff00"/><rect x="820" y="668" width="3" height="21" fill="#00ff00"/><rect x="836" y="663" width="3" height="26" fill="#00ff00"/><rect x="852" y="657" width="3" height="32" fill="#00ff00"/><rect x="868" y="655" width="3" height="34" fill="#00ff00"/><rect x="884" y="653" width="3" height="36" fill="#00ff00"/><rect x="900" y="648" width="3" height="41" fill="#00ff00"/><rect x="916" y="644" width="3" height="45" fill="#00ff00"/><rect x="932" y="644" width="3" height="45" fill="#00ff00"/><rect x="948" y="647" width="3" height="42" fill="#00ff00"/><rect x="964" y="652" width="3" height="37" fill="#00ff00"/><rect x="980" y="654" width="3" height="35" fill="#00ff00"/><rect x="996" y="659" width="3" height="30" fill="#00ff00"/><rect x="1012" y="661" width="3" height="28" fill="#00ff00"/><rect x="1028" y="661" width="3" height="28" fill="#00ff00"/><rect x="1044" y="657" width="3" height="32" fill="#00ff00"/><rect x="1060" y="655" width="3" height="34" fill="#00ff00"/><rect x="1076" y="655" width="3" height="34" fill="#00ff00"/><rect x="1092" y="644" width="3" height="45" fill="#00ff00"/><rect x="1108" y="641" width="3" height="48" fill="#00ff00"/><rect x="1124" y="639" width="3" height="50" fill="#00ff00"/><rect x="1140" y="636" width="3" height="53" fill="#00ff00"/><rect x="1156" y="635" width="3" height="54" fill="#00ff00"/><rect x="1172" y="634" width="3" height="55" fill="#00ff00"/><rect x="1188" y="628" width="3" height="61" fill="#00ff00"/><rect x="1204" y="625" width="3" height="64" fill="#00ff00"/><rect x="1220" y="621" width="3" height="68" fill="#00ff00"/><rect x="1236" y="618" width="3" height="71" fill="#00ff00"/><rect x="1252" y="616" width="3" height="73" fill="#00ff00"/><rect x="1268" y="625" width="3" height="64" fill="#00ff00"/><rect x="1284" y="633" width="3" height="56" fill="#00ff00"/><rect x="1300" y="639" width="3" height="50" fill="#00ff00"/><rect x="1316" y="642" width="3" height="47" fill="#00ff00"/><rect x="1332" y="645" width="3" height="44" fill="#00ff00"/><rect x="1348" y="647" width="3" height="42" fill="#00ff00"/><polyline points="5,658.7 21,658.2 37,657.5 53,657 69,656.7 85,655.2 101,653.9 117,654.4 133,655.2 149,656 165,656.7 181,657.8 197,659.8 213,662.9 229,666.8 245,667.6 261,667.6 277,667.2 293,665.2 309,663.8 325,662.2 341,660.1 357,658.1 373,656.1 389,655.1 405,652.7 421,651.1 437,650.1 453,649.1 469,649.1 485,649.1 501,649.1 517,649.1 533,649.1 549,651.1 565,651.7 581,655.1 597,659.1 613,665.6 629,670.2 645,675.2 661,682.3 677,688.7 693,694.3 709,700.3 725,703.4 741,704 757,704 773,701.7 789,698.9 805,694.3 821,689.3 837,684.3 853,678.2 869,673.3 885,669.7 901,664.3 917,660.2 933,656.6 949,653.2 965,651.2 981,651.2 997,651.2 1013,651.8 1029,652.8 1045,653.6 1061,654.6 1077,654.6 1093,654.6 1109,654.2 1125,652.6 1141,650.6 1157,647.6 1173,644.8 1189,641.6 1205,637.2 1221,634.1 1237,631.1 1253,628.1 1269,627.5 1285,626.7 1301,626.7 1317,627.1 1333,629.5 1349,631.7" fill="none" stroke="#ff0000" stroke-width="2" shape-rendering="crispEdges"/></svg><text x="9" y="623" font-size="9.3" fill="#000" text-anchor="start" >MACD(12,26,9) 0.010460 0.014393</text><text x="1648" y="621" font-size="9.2" fill="#000" text-anchor="start" >0.019561</text><rect x="1645" y="689" width="2" height="1" fill="#000"/><text x="1648" y="693" font-size="9.2" fill="#000" text-anchor="start" >0.00</text><text x="1648" y="715" font-size="9.2" fill="#000" text-anchor="start" >-0.007367</text><svg x="5" y="721" width="1639" height="99" viewBox="5 721 1639 99" overflow="hidden"><line x1="6" y1="741.5" x2="1642" y2="741.5" stroke="#000" stroke-width="1" stroke-dasharray="3,3"/><line x1="6" y1="770.5" x2="1642" y2="770.5" stroke="#000" stroke-width="1" stroke-dasharray="3,3"/><line x1="6" y1="805.5" x2="1642" y2="805.5" stroke="#000" stroke-width="1" stroke-dasharray="3,3"/><polyline points="5,766.8 21,760.2 37,756.8 53,756.8 69,755.8 85,762.6 101,762.6 117,773.9 133,773.9 149,773.9 165,766.8 181,766.8 197,762.8 213,762.8 229,762.8 245,758.8 261,758.8 277,758.2 293,755.8 309,757.6 325,757.6 341,754.1 357,759.6 373,759.6 389,754.1 405,754.1 421,752.7 437,755.1 453,757.6 469,757.6 485,770.8 501,759.8 517,761.8 533,757.6 549,769.6 565,765.8 581,780.9 597,782.9 613,782.9 629,775.8 645,778.9 661,777.7 677,776.8 693,776.8 709,767.8 725,765.8 741,764.8 757,764.8 773,764.8 789,764.8 805,759.8 821,759.8 837,758.2 853,757.6 869,759.8 885,759.8 901,754.1 917,754.1 933,760.6 949,764.8 965,766.8 981,767 997,768.8 1013,765.2 1029,763.2 1045,757.6 1061,758.2 1077,758.8 1093,749.5 1109,756.6 1125,755.7 1141,755.7 1157,755.7 1173,754.7 1189,750.1 1205,750.1 1221,748.1 1237,747.7 1253,747.7 1269,767.6 1285,767.6 1301,766 1317,763.2 1333,763.2 1349,763.2" fill="none" stroke="#1e90ff" stroke-width="2" shape-rendering="geometricPrecision"/></svg><text x="9" y="733" font-size="9.3" fill="#000" text-anchor="start" >RSI(14) 57.7719</text><rect x="1645" y="721" width="2" height="1" fill="#000"/><text x="1648" y="731" font-size="9.2" fill="#000" text-anchor="start" >100</text><rect x="1645" y="741" width="2" height="1" fill="#000"/><text x="1648" y="745" font-size="9.2" fill="#000" text-anchor="start" >80</text><rect x="1645" y="770" width="2" height="1" fill="#000"/><text x="1648" y="774" font-size="9.2" fill="#000" text-anchor="start" >50</text><rect x="1645" y="805" width="2" height="1" fill="#000"/><text x="1648" y="809" font-size="9.2" fill="#000" text-anchor="start" >15</text><rect x="1645" y="819" width="2" height="1" fill="#000"/><text x="1648" y="817" font-size="9.2" fill="#000" text-anchor="start" >0</text><rect x="5" y="821" width="1" height="3" fill="#000"/><text x="4" y="833" font-size="9.1" fill="#000" text-anchor="start" >7 Jun 2023</text><rect x="69" y="821" width="1" height="3" fill="#000"/><text x="68" y="833" font-size="9.1" fill="#000" text-anchor="start" >8 Jun 00:00</text><rect x="133" y="821" width="1" height="3" fill="#000"/><text x="132" y="833" font-size="9.1" fill="#000" text-anchor="start" >8 Jun 16:00</text><rect x="197" y="821" width="1" height="3" fill="#000"/><text x="196" y="833" font-size="9.1" fill="#000" text-anchor="start" >9 Jun 08:00</text><rect x="261" y="821" width="1" height="3" fill="#000"/><text x="260" y="833" font-size="9.1" fill="#000" text-anchor="start" >12 Jun 04:00</text><rect x="325" y="821" width="1" height="3" fill="#000"/><text x="324" y="833" font-size="9.1" fill="#000" text-anchor="start" >12 Jun 20:00</text><rect x="389" y="821" width="1" height="3" fill="#000"/><text x="388" y="833" font-size="9.1" fill="#000" text-anchor="start" >13 Jun 12:00</text><rect x="453" y="821" width="1" height="3" fill="#000"/><text x="452" y="833" font-size="9.1" fill="#000" text-anchor="start" >14 Jun 04:00</text><rect x="517" y="821" width="1" height="3" fill="#000"/><text x="516" y="833" font-size="9.1" fill="#000" text-anchor="start" >14 Jun 20:00</text><rect x="581" y="821" width="1" height="3" fill="#000"/><text x="580" y="833" font-size="9.1" fill="#000" text-anchor="start" >15 Jun 12:00</text><rect x="645" y="821" width="1" height="3" fill="#000"/><text x="644" y="833" font-size="9.1" fill="#000" text-anchor="start" >16 Jun 04:00</text><rect x="709" y="821" width="1" height="3" fill="#000"/><text x="708" y="833" font-size="9.1" fill="#000" text-anchor="start" >19 Jun 00:00</text><rect x="773" y="821" width="1" height="3" fill="#000"/><text x="772" y="833" font-size="9.1" fill="#000" text-anchor="start" >19 Jun 16:00</text><rect x="837" y="821" width="1" height="3" fill="#000"/><text x="836" y="833" font-size="9.1" fill="#000" text-anchor="start" >20 Jun 08:00</text><rect x="901" y="821" width="1" height="3" fill="#000"/><text x="900" y="833" font-size="9.1" fill="#000" text-anchor="start" >21 Jun 00:00</text><rect x="965" y="821" width="1" height="3" fill="#000"/><text x="964" y="833" font-size="9.1" fill="#000" text-anchor="start" >21 Jun 16:00</text><rect x="1029" y="821" width="1" height="3" fill="#000"/><text x="1028" y="833" font-size="9.1" fill="#000" text-anchor="start" >22 Jun 08:00</text><rect x="1093" y="821" width="1" height="3" fill="#000"/><text x="1092" y="833" font-size="9.1" fill="#000" text-anchor="start" >23 Jun 00:00</text><rect x="1157" y="821" width="1" height="3" fill="#000"/><text x="1156" y="833" font-size="9.1" fill="#000" text-anchor="start" >23 Jun 16:00</text><rect x="1221" y="821" width="1" height="3" fill="#000"/><text x="1220" y="833" font-size="9.1" fill="#000" text-anchor="start" >26 Jun 12:00</text><rect x="1285" y="821" width="1" height="3" fill="#000"/><text x="1284" y="833" font-size="9.1" fill="#000" text-anchor="start" >27 Jun 04:00</text><rect x="1349" y="821" width="1" height="3" fill="#000"/><text x="1348" y="833" font-size="9.1" fill="#000" text-anchor="start" >27 Jun 20:00</text></svg>
</body></html>
